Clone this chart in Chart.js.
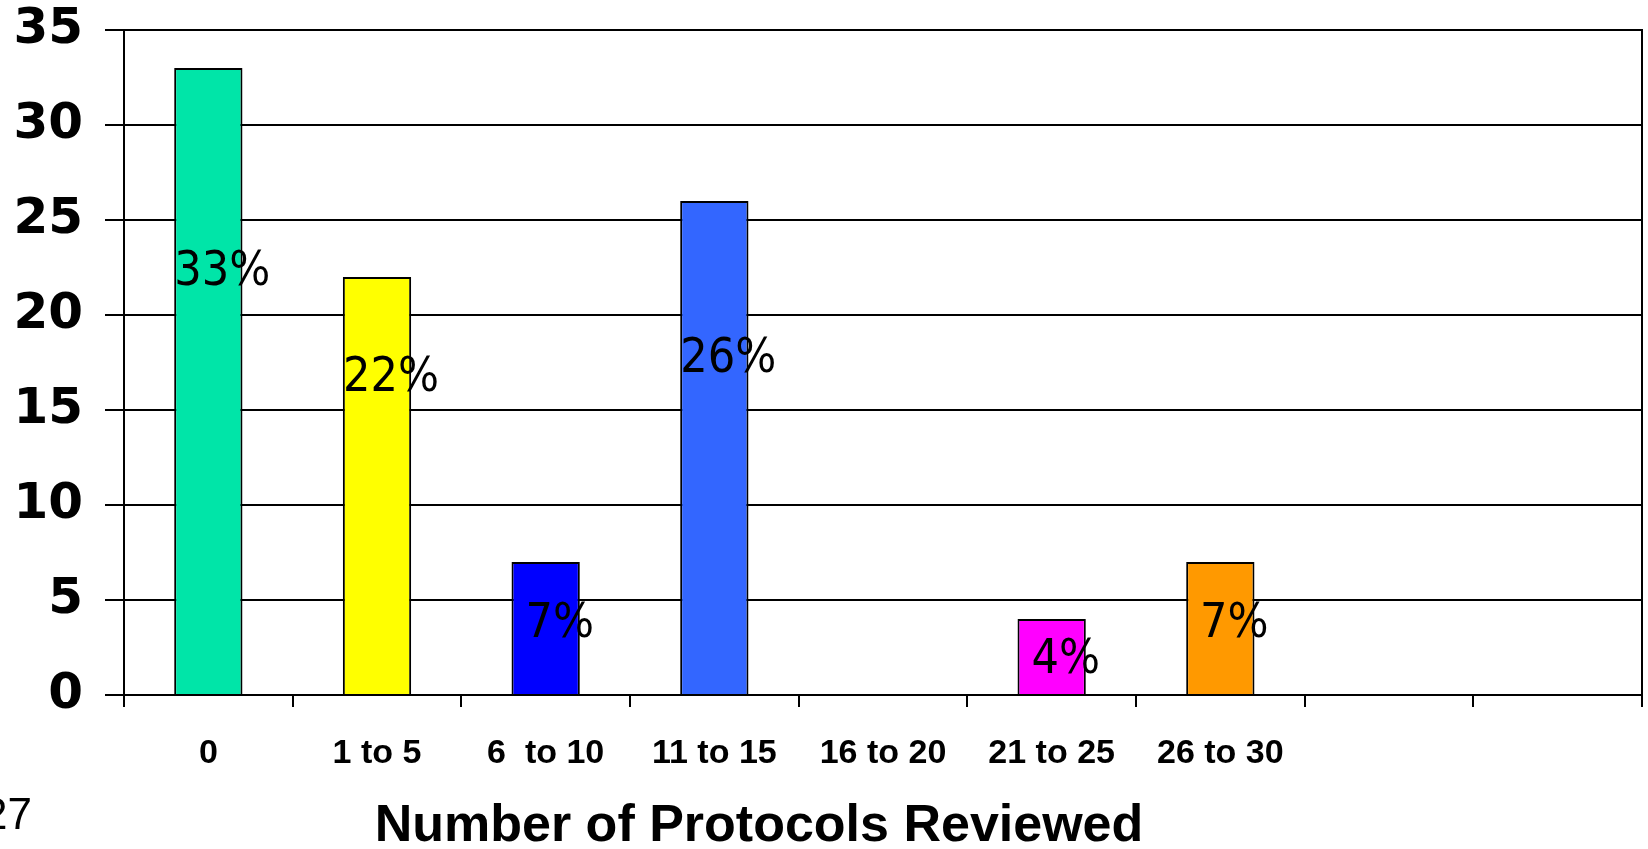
<!DOCTYPE html>
<html>
<head>
<meta charset="utf-8">
<script src="https://cdn.jsdelivr.net/npm/chart.js@4/dist/chart.umd.min.js"></script>
<style>
  html, body { margin: 0; padding: 0; background: #fff; }
  #wrap { width: 1648px; height: 849px; position: relative; }
</style>
</head>
<body>
<div id="wrap"><canvas id="myChart"></canvas></div>
<script>
// data
let categories = ["0", "1 to 5", "6  to 10", "11 to 15", "16 to 20", "21 to 25", "26 to 30", "", ""];
let counts = [33, 22, 7, 26, 0, 4, 7];
let percentLabels = ["33%", "22%", "7%", "26%", "", "4%", "7%"];
let labelAt = [22.5, 16.9, 3.96, 17.9, 0, 2.1, 3.96]; // height on the y scale where each % text sits
let barColors = ['#00E5A8', '#FFFF00', '#0000FF', '#3366FF', '#FFFFFF', '#FF00FF', '#FF9900'];
let yTicks = [0, 5, 10, 15, 20, 25, 30, 35];

let pctPlugin = {
    id: 'pct',
    afterDatasetsDraw(chart) {
        let ctx = chart.ctx;
        let meta = chart.getDatasetMeta(0);
        let y = chart.scales.y;
        let size = 48;
        ctx.save();
        ctx.font = size + 'px "DejaVu Sans Condensed", "DejaVu Sans"';
        ctx.fillStyle = '#000';
        ctx.textAlign = 'center';
        ctx.textBaseline = 'alphabetic';
        meta.data.forEach((bar, i) => {
            if (!percentLabels[i]) return;
            // centre the digits (cap height ~0.73em) on the value
            ctx.fillText(percentLabels[i], bar.x + 14, y.getPixelForValue(labelAt[i]) + size * 0.365);
        });
        ctx.restore();
    },
    afterDraw(chart) {
        let ctx = chart.ctx;
        ctx.save();
        ctx.fillStyle = '#000';
        ctx.textBaseline = 'middle';
        ctx.textAlign = 'center';
        ctx.font = 'bold 52px "Liberation Sans"';
        ctx.fillText('Number of Protocols Reviewed', 759, 827);
        ctx.textAlign = 'right';
        ctx.font = '44px "Liberation Sans"';
        ctx.fillText('27', 32, 817);
        ctx.restore();
    }
};

let ctx = document.getElementById("myChart").getContext('2d');
let myChart = new Chart(ctx, {
    type: 'bar',
    data: {
        labels: categories,
        datasets: [{
            data: counts,
            backgroundColor: barColors,
            borderColor: '#000',
            borderWidth: 2,
            borderSkipped: 'bottom',
            categoryPercentage: 1,
            barPercentage: 0.405
        }]
    },
    options: {
        responsive: true,
        maintainAspectRatio: false,
        animation: false,
        layout: { padding: { top: 30, right: 6, left: 0, bottom: 0 } },
        plugins: {
            legend: { display: false },
            tooltip: { enabled: false }
        },
        scales: {
            x: {
                grid: {
                    offset: true,
                    drawOnChartArea: false,
                    color: '#000',
                    lineWidth: 2,
                    tickLength: 12
                },
                border: { color: '#000', width: 2 },
                ticks: {
                    color: '#000',
                    font: { family: 'Liberation Sans', weight: 'bold', size: 34 },
                    padding: 26,
                    maxRotation: 0,
                    autoSkip: false
                },
                afterFit: s => { s.height = 154; s.paddingLeft = 0; s.paddingRight = 0; }
            },
            y: {
                min: 0,
                max: 35,
                afterBuildTicks: s => { s.ticks = yTicks.map(v => ({ value: v })); },
                grid: {
                    color: '#000',
                    lineWidth: 2,
                    tickLength: 19
                },
                border: { color: '#000', width: 2 },
                ticks: {
                    color: '#000',
                    font: { family: 'DejaVu Sans', weight: 'bold', size: 50 },
                    padding: 22
                },
                afterFit: s => { s.width = 124; s.paddingTop = 0; s.paddingBottom = 0; }
            },
            y2: {
                position: 'right',
                min: 0,
                max: 35,
                grid: { drawOnChartArea: false, drawTicks: false },
                border: { color: '#000', width: 2 },
                ticks: { display: false },
                afterFit: s => { s.width = 0; s.paddingTop = 0; s.paddingBottom = 0; }
            }
        }
    },
    plugins: [pctPlugin]
});
</script>
</body>
</html>
